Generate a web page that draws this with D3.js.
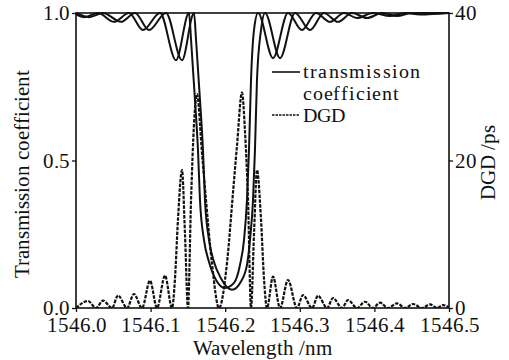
<!DOCTYPE html>
<html>
<head>
<meta charset="utf-8">
<script src="https://cdn.jsdelivr.net/npm/d3@7"></script>
<style>
  @font-face {
    font-family: 'ChartSerif';
    src: local('Liberation Serif'), local('LiberationSerif'), local('LiberationSerif-Regular'), local('Liberation Serif Regular'), local('DejaVu Serif'), local('DejaVuSerif');
  }
  body { margin: 0; background: #fff; }
  svg text { font-family: 'ChartSerif', 'Liberation Serif', 'DejaVu Serif'; fill: #111; }
</style>
</head>
<body>
<script>
// wavelength ticks and axis ticks
const xTicks = [1546.0, 1546.1, 1546.2, 1546.3, 1546.4, 1546.5];
const leftTicks = [0.0, 0.5, 1.0];
const rightTicks = [0, 20, 40];

// transmission coefficient, first polarization
const wlA = [1546.0000, 1546.0107, 1546.0295, 1546.0509, 1546.0710, 1546.0898, 1546.1126, 1546.1340,
             1546.1515, 1546.1542, 1546.1595, 1546.1635, 1546.1662, 1546.1716, 1546.1783, 1546.1877,
             1546.1997, 1546.2118, 1546.2198, 1546.2252, 1546.2292, 1546.2319, 1546.2346, 1546.2386,
             1546.2440, 1546.2641, 1546.2842, 1546.3029, 1546.3217, 1546.3405, 1546.3592, 1546.3767,
             1546.3981, 1546.4209, 1546.4410, 1546.4611, 1546.5000];
const transA = [0.995, 0.986, 1.0, 0.97, 1.0, 0.942, 1.0, 0.84,
                1.0, 0.91, 0.705, 0.536, 0.366, 0.23, 0.156, 0.095,
                0.068, 0.085, 0.146, 0.23, 0.366, 0.536, 0.773, 0.942,
                1.0, 0.847, 1.0, 0.942, 1.0, 0.97, 1.0, 0.983,
                1.0, 0.99, 1.0, 0.995, 1.0];

// transmission coefficient, second polarization
const wlB = [1546.0000, 1546.0174, 1546.0362, 1546.0603, 1546.0791, 1546.0979, 1546.1206, 1546.1421,
             1546.1582, 1546.1609, 1546.1662, 1546.1702, 1546.1729, 1546.1783, 1546.1850, 1546.1944,
             1546.2091, 1546.2212, 1546.2292, 1546.2332, 1546.2373, 1546.2399, 1546.2426, 1546.2480,
             1546.2534, 1546.2735, 1546.2936, 1546.3137, 1546.3324, 1546.3512, 1546.3700, 1546.3901,
             1546.4102, 1546.4303, 1546.4504, 1546.5000];
const transB = [1.0, 0.986, 1.0, 0.97, 1.0, 0.942, 1.0, 0.84,
                1.0, 0.91, 0.705, 0.536, 0.366, 0.23, 0.156, 0.10,
                0.062, 0.09, 0.146, 0.23, 0.366, 0.536, 0.773, 0.942,
                1.0, 0.847, 1.0, 0.942, 1.0, 0.97, 1.0, 0.983,
                1.0, 0.99, 1.0, 1.0];

// differential group delay (ps)
const dgdWl = [1546.0000, 1546.0161, 1546.0268, 1546.0362, 1546.0483, 1546.0563, 1546.0684, 1546.0777,
               1546.0885, 1546.0992, 1546.1086, 1546.1193, 1546.1287, 1546.1327, 1546.1367, 1546.1421,
               1546.1461, 1546.1501, 1546.1542, 1546.1582, 1546.1622, 1546.1689, 1546.1743, 1546.1823,
               1546.1917, 1546.2024, 1546.2105, 1546.2158, 1546.2225, 1546.2265, 1546.2306, 1546.2346,
               1546.2386, 1546.2426, 1546.2480, 1546.2520, 1546.2560, 1546.2641, 1546.2735, 1546.2842,
               1546.2962, 1546.3043, 1546.3164, 1546.3244, 1546.3365, 1546.3445, 1546.3566, 1546.3646,
               1546.3767, 1546.3874, 1546.3981, 1546.4075, 1546.4182, 1546.4303, 1546.4410, 1546.4517,
               1546.4638, 1546.4745, 1546.4839, 1546.4920, 1546.5000];
const dgd = [0.0, 0.95, 0.0, 1.0, 0.0, 1.7, 0.0, 1.9,
             0.0, 3.7, 0.0, 4.4, 0.0, 4.0, 12.0, 18.7,
             10.0, 0.0, 14.6, 25.0, 29.0, 21.0, 14.6, 6.0,
             0.0, 6.1, 15.7, 22.0, 29.2, 24.0, 14.6, 0.0,
             10.0, 18.7, 12.0, 4.0, 0.0, 4.25, 0.0, 3.8,
             0.0, 1.76, 0.0, 1.67, 0.0, 1.35, 0.0, 1.08,
             0.0, 0.85, 0.0, 0.72, 0.0, 0.63, 0.0, 0.54,
             0.0, 0.5, 0.0, 0.4, 0.1];

const margin = {top: 13, right: 60, bottom: 52, left: 76};
const width = 509;
const height = 360;
const chartWidth = width - margin.left - margin.right;
const chartHeight = height - margin.top - margin.bottom;

const xScale = d3.scaleLinear()
                 .domain([1546.0, 1546.5])
                 .range([0, chartWidth]);

const yLeft = d3.scaleLinear()
                .domain([0, 1])
                .range([chartHeight, 0]);

const yRight = d3.scaleLinear()
                 .domain([0, 40])
                 .range([chartHeight, 0]);

const svg = d3.select('body')
              .append('svg')
                .attr('width', width)
                .attr('height', height);

const canvas = svg.append('g')
                  .attr('transform', `translate(${margin.left}, ${margin.top})`);

canvas.append('clipPath')
        .attr('id', 'plot-clip')
      .append('rect')
        .attr('x', 0)
        .attr('y', -2)
        .attr('width', chartWidth)
        .attr('height', chartHeight + 2);

// x-axis and label
const xAxis = canvas.append('g')
                    .attr('transform', `translate(0, ${chartHeight})`)
                    .call(d3.axisBottom(xScale).tickValues(xTicks).tickFormat(d3.format('.1f')).tickSize(4).tickPadding(5));

svg.append('text')
   .attr('x', margin.left + chartWidth / 2)
   .attr('y', height - 5)
   .attr('text-anchor', 'middle')
   .attr('font-size', 21)
   .text('Wavelength /nm');

// left y-axis and label
const leftAxis = canvas.append('g')
                       .call(d3.axisLeft(yLeft).tickValues(leftTicks).tickFormat(d3.format('.1f')).tickSize(4).tickPadding(2));

svg.append('text')
   .attr('transform', `translate(29, ${margin.top + 161}) rotate(-90)`)
   .attr('text-anchor', 'middle')
   .attr('font-size', 21)
   .text('Transmission coefficient');

// right y-axis and label
const rightAxis = canvas.append('g')
                        .attr('transform', `translate(${chartWidth}, 0)`)
                        .call(d3.axisRight(yRight).tickValues(rightTicks).tickSize(4).tickPadding(2));

svg.append('text')
   .attr('transform', `translate(495, ${margin.top + 149}) rotate(-90)`)
   .attr('text-anchor', 'middle')
   .attr('font-size', 21)
   .text('DGD /ps');

[xAxis, leftAxis, rightAxis].forEach(function(ax) {
    ax.attr('font-family', null);
    ax.select('.domain').remove();
    ax.selectAll('line').attr('stroke', '#111').attr('stroke-width', 1.3);
    ax.selectAll('text').attr('font-size', 21);
});

// frame
canvas.append('rect')
      .attr('x', 0)
      .attr('y', 0)
      .attr('width', chartWidth)
      .attr('height', chartHeight)
      .attr('fill', 'none')
      .attr('stroke', '#111')
      .attr('stroke-width', 1.6);

const plot = canvas.append('g').attr('clip-path', 'url(#plot-clip)');

// DGD curve
const dgdLine = d3.line()
                  .x((d, i) => xScale(dgdWl[i]))
                  .y((d) => yRight(d))
                  .curve(d3.curveMonotoneX);

plot.append('path')
    .datum(dgd)
    .attr('d', dgdLine)
    .attr('fill', 'none')
    .attr('stroke', '#111')
    .attr('stroke-width', 2.2)
    .attr('stroke-dasharray', '3.5,1.3');

// transmission curves
[[wlA, transA], [wlB, transB]].forEach(function(series) {
    const line = d3.line()
                   .x((d, i) => xScale(series[0][i]))
                   .y((d) => yLeft(d))
                   .curve(d3.curveMonotoneX);
    plot.append('path')
        .datum(series[1])
        .attr('d', line)
        .attr('fill', 'none')
        .attr('stroke', '#111')
        .attr('stroke-width', 2);
});

// legend
const legend = svg.append('g')
                  .attr('transform', 'translate(272, 72)');

legend.append('line')
      .attr('x1', 0).attr('x2', 28)
      .attr('y1', 0).attr('y2', 0)
      .attr('stroke', '#111')
      .attr('stroke-width', 1.6);

legend.append('text')
      .attr('x', 31)
      .attr('y', 6)
      .attr('font-size', 20)
      .attr('letter-spacing', 1.2)
      .text('transmission');

legend.append('text')
      .attr('x', 31)
      .attr('y', 28)
      .attr('font-size', 20)
      .attr('letter-spacing', 0.8)
      .text('coefficient');

legend.append('line')
      .attr('x1', 0).attr('x2', 28)
      .attr('y1', 43).attr('y2', 43)
      .attr('stroke', '#111')
      .attr('stroke-width', 1.3)
      .attr('stroke-dasharray', '2.5,1');

legend.append('text')
      .attr('x', 31)
      .attr('y', 50)
      .attr('font-size', 20)
      .text('DGD');
</script>
</body>
</html>
